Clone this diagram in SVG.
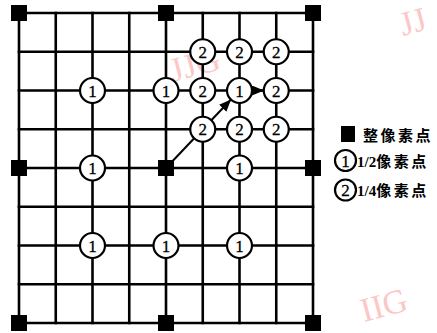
<svg xmlns="http://www.w3.org/2000/svg" width="437" height="333" viewBox="0 0 437 333">
<style>
.grid line{stroke:#000;stroke-width:2.6;stroke-linecap:square}
.px{fill:#000}
.c{fill:#fff;stroke:#000;stroke-width:2.2}
.n{font-family:"Liberation Serif","DejaVu Serif",serif;font-size:17px;text-anchor:middle;fill:#000;stroke:#000;stroke-width:0.3}
.lg{font-family:"Liberation Serif","Noto Sans CJK SC",serif;font-size:15px;font-weight:bold;fill:#000}
.cjk{font-family:"Noto Sans CJK SC",sans-serif;letter-spacing:2.5px}
.wm{font-family:"Liberation Serif",serif;font-size:34px;fill:#fa9a9a;opacity:0.55}
.conn{stroke:#000;stroke-width:2;fill:none}
</style>
<defs>
<marker id="ah" markerUnits="userSpaceOnUse" markerWidth="14" markerHeight="12" refX="12" refY="5" orient="auto">
<path d="M0,0 L12,5 L0,10 Z" fill="#000"/>
</marker>
</defs>
<rect width="437" height="333" fill="#fff"/>
<g id="watermarks">
<text class="wm" x="173" y="82" transform="rotate(-15 173 82)">JJG</text>
<text class="wm" x="403" y="36" transform="rotate(-15 403 36)">JJ</text>
<text class="wm" x="364" y="322" transform="rotate(-15 364 322)">IIG</text>
</g>
<g id="grid" class="grid">
<line x1="19" y1="13" x2="313" y2="13"/>
<line x1="19" y1="51.75" x2="313" y2="51.75"/>
<line x1="19" y1="90.5" x2="313" y2="90.5"/>
<line x1="19" y1="129.25" x2="313" y2="129.25"/>
<line x1="19" y1="168" x2="313" y2="168"/>
<line x1="19" y1="206.75" x2="313" y2="206.75"/>
<line x1="19" y1="245.5" x2="313" y2="245.5"/>
<line x1="19" y1="284.25" x2="313" y2="284.25"/>
<line x1="19" y1="323" x2="313" y2="323"/>
<line x1="19" y1="13" x2="19" y2="323"/>
<line x1="55.75" y1="13" x2="55.75" y2="323"/>
<line x1="92.5" y1="13" x2="92.5" y2="323"/>
<line x1="129.25" y1="13" x2="129.25" y2="323"/>
<line x1="166" y1="13" x2="166" y2="323"/>
<line x1="202.75" y1="13" x2="202.75" y2="323"/>
<line x1="239.5" y1="13" x2="239.5" y2="323"/>
<line x1="276.25" y1="13" x2="276.25" y2="323"/>
<line x1="313" y1="13" x2="313" y2="323"/>
</g>
<g id="connectors">
<line class="conn" x1="166" y1="168" x2="231" y2="99.5" marker-end="url(#ah)"/>
<line class="conn" x1="239.5" y1="90.5" x2="264" y2="90.5" marker-end="url(#ah)"/>
</g>
<g id="integer-pixels">
<rect class="px" x="11" y="5" width="16" height="16"/>
<rect class="px" x="158" y="5" width="16" height="16"/>
<rect class="px" x="305" y="5" width="16" height="16"/>
<rect class="px" x="11" y="160" width="16" height="16"/>
<rect class="px" x="158" y="160" width="16" height="16"/>
<rect class="px" x="305" y="160" width="16" height="16"/>
<rect class="px" x="11" y="315" width="16" height="16"/>
<rect class="px" x="158" y="315" width="16" height="16"/>
<rect class="px" x="305" y="315" width="16" height="16"/>
</g>
<g id="half-pixels">
<g id="h1"><circle class="c" cx="92.5" cy="90.5" r="12.5"/><text class="n" x="92.5" y="96.5">1</text></g>
<g id="h2"><circle class="c" cx="166" cy="90.5" r="12.5"/><text class="n" x="166" y="96.5">1</text></g>
<g id="h3"><circle class="c" cx="239.5" cy="90.5" r="12.5"/><text class="n" x="239.5" y="96.5">1</text></g>
<g id="h4"><circle class="c" cx="92.5" cy="168" r="12.5"/><text class="n" x="92.5" y="174">1</text></g>
<g id="h5"><circle class="c" cx="239.5" cy="168" r="12.5"/><text class="n" x="239.5" y="174">1</text></g>
<g id="h6"><circle class="c" cx="92.5" cy="245.5" r="12.5"/><text class="n" x="92.5" y="251.5">1</text></g>
<g id="h7"><circle class="c" cx="166" cy="245.5" r="12.5"/><text class="n" x="166" y="251.5">1</text></g>
<g id="h8"><circle class="c" cx="239.5" cy="245.5" r="12.5"/><text class="n" x="239.5" y="251.5">1</text></g>
</g>
<g id="quarter-pixels">
<g id="q1"><circle class="c" cx="202.75" cy="51.75" r="12.5"/><text class="n" x="202.75" y="57.75">2</text></g>
<g id="q2"><circle class="c" cx="239.5" cy="51.75" r="12.5"/><text class="n" x="239.5" y="57.75">2</text></g>
<g id="q3"><circle class="c" cx="276.25" cy="51.75" r="12.5"/><text class="n" x="276.25" y="57.75">2</text></g>
<g id="q4"><circle class="c" cx="202.75" cy="90.5" r="12.5"/><text class="n" x="202.75" y="96.5">2</text></g>
<g id="q5"><circle class="c" cx="276.25" cy="90.5" r="12.5"/><text class="n" x="276.25" y="96.5">2</text></g>
<g id="q6"><circle class="c" cx="202.75" cy="129.25" r="12.5"/><text class="n" x="202.75" y="135.25">2</text></g>
<g id="q7"><circle class="c" cx="239.5" cy="129.25" r="12.5"/><text class="n" x="239.5" y="135.25">2</text></g>
<g id="q8"><circle class="c" cx="276.25" cy="129.25" r="12.5"/><text class="n" x="276.25" y="135.25">2</text></g>
</g>
<g id="legend">
<g id="legend-integer"><rect class="px" x="341" y="126" width="14" height="16"/><text class="lg" x="363" y="141"><tspan class="cjk">整像素点</tspan></text></g>
<g id="legend-half"><circle class="c" cx="345.5" cy="160.5" r="10.5"/><text class="n" x="345.5" y="166.5">1</text><text class="lg" x="357" y="167">1/2<tspan class="cjk">像素点</tspan></text></g>
<g id="legend-quarter"><circle class="c" cx="345.5" cy="190" r="10.5"/><text class="n" x="345.5" y="196">2</text><text class="lg" x="357" y="196">1/4<tspan class="cjk">像素点</tspan></text></g>
</g>
</svg>
